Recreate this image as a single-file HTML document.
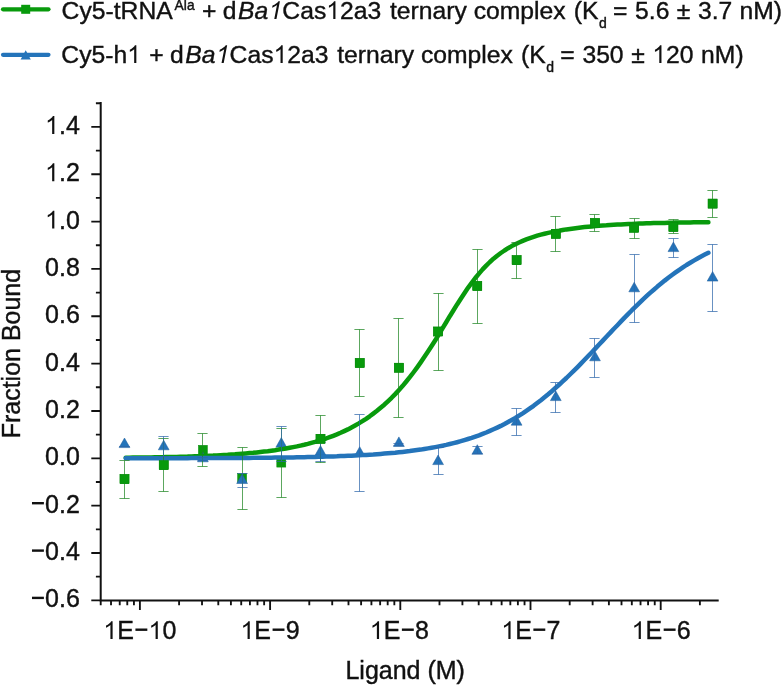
<!DOCTYPE html>
<html><head><meta charset="utf-8"><title>Binding curve</title>
<style>html,body{margin:0;padding:0;background:#fff;}body{width:782px;height:685px;overflow:hidden;}svg{display:block;will-change:transform;}text{font-family:"Liberation Sans",sans-serif;fill:#111;stroke:#111;stroke-width:0.4px;}.o{fill:none;stroke:none;}.g1{fill:#111;stroke:#111;stroke-width:0.4px;vector-effect:non-scaling-stroke;}</style>
</head><body>
<svg width="782" height="685" viewBox="0 0 782 685">
<rect width="782" height="685" fill="#fff"></rect>
<g stroke-linecap="round" stroke-width="4.2" fill="none">
<line x1="3" y1="9.3" x2="48.5" y2="9.3" stroke="#089a0c"></line>
<line x1="3" y1="54.8" x2="48.5" y2="54.8" stroke="#2474ba"></line>
</g>
<rect x="21.2" y="4.8" width="9" height="9" fill="#089a0c"></rect>
<path d="M25.7 50.2 L30.8 59.4 L20.6 59.4 Z" fill="#2474ba"></path>
<text font-size="24.7"><tspan x="61.60" y="18.90">Cy5-tRNA</tspan><tspan x="174.62" y="10.30" font-size="13.8">Ala</tspan><tspan x="201.99" y="18.90">+</tspan><tspan x="222.86" y="18.90">d</tspan><tspan x="237.94" y="18.90" font-style="italic">Ba<tspan class="o">1</tspan></tspan><tspan x="282.35" y="18.90">Cas<tspan class="o">1</tspan>2a3</tspan><tspan x="390.03" y="18.90">ternary</tspan><tspan x="473.65" y="18.90">complex</tspan><tspan x="573.77" y="18.90">(K</tspan><tspan x="598.91" y="27.50" font-size="14.0">d</tspan><tspan x="612.99" y="18.90">=</tspan><tspan x="635.06" y="18.90">5.6</tspan><tspan x="676.67" y="18.90">±</tspan><tspan x="698.01" y="18.90">3.7</tspan><tspan x="739.51" y="18.90">nM)</tspan></text><g class="g1"><path transform="translate(267.25 18.90) skewX(-11) scale(0.01206 -0.01206)" d="M763 0H583V1147Q518 1085 412.5 1023T223 930V1104Q374 1175 487 1276T647 1472H763Z"></path><path transform="translate(326.24 18.90) scale(0.01206 -0.01206)" d="M763 0H583V1147Q518 1085 412.5 1023T223 930V1104Q374 1175 487 1276T647 1472H763Z"></path></g>
<text font-size="24.7"><tspan x="61.30" y="63.00">Cy5-h<tspan class="o">1</tspan></tspan><tspan x="149.24" y="63.00">+</tspan><tspan x="170.11" y="63.00">d</tspan><tspan x="185.19" y="63.00" font-style="italic">Ba<tspan class="o">1</tspan></tspan><tspan x="229.60" y="63.00">Cas<tspan class="o">1</tspan>2a3</tspan><tspan x="337.28" y="63.00">ternary</tspan><tspan x="420.90" y="63.00">complex</tspan><tspan x="521.02" y="63.00">(K</tspan><tspan x="546.16" y="71.60" font-size="14.0">d</tspan><tspan x="560.24" y="63.00">=</tspan><tspan x="582.41" y="63.00">350</tspan><tspan x="631.27" y="63.00">±</tspan><tspan x="652.26" y="63.00"><tspan class="o">1</tspan>20</tspan><tspan x="701.11" y="63.00">nM)</tspan></text><g class="g1"><path transform="translate(127.14 63.00) scale(0.01206 -0.01206)" d="M763 0H583V1147Q518 1085 412.5 1023T223 930V1104Q374 1175 487 1276T647 1472H763Z"></path><path transform="translate(214.50 63.00) skewX(-11) scale(0.01206 -0.01206)" d="M763 0H583V1147Q518 1085 412.5 1023T223 930V1104Q374 1175 487 1276T647 1472H763Z"></path><path transform="translate(273.49 63.00) scale(0.01206 -0.01206)" d="M763 0H583V1147Q518 1085 412.5 1023T223 930V1104Q374 1175 487 1276T647 1472H763Z"></path><path transform="translate(652.26 63.00) scale(0.01206 -0.01206)" d="M763 0H583V1147Q518 1085 412.5 1023T223 930V1104Q374 1175 487 1276T647 1472H763Z"></path></g>
<g stroke="#111" stroke-width="2.0" fill="none" stroke-linecap="butt">
<path d="M100.7 102.0 L100.7 600.4 L718.7 600.4"></path>
<path stroke-width="1.85" d="M100.7 600.32 H91.3 M100.7 576.65 H95.9 M100.7 552.98 H91.3 M100.7 529.31 H95.9 M100.7 505.64 H91.3 M100.7 481.97 H95.9 M100.7 458.30 H91.3 M100.7 434.63 H95.9 M100.7 410.96 H91.3 M100.7 387.29 H95.9 M100.7 363.62 H91.3 M100.7 339.95 H95.9 M100.7 316.28 H91.3 M100.7 292.61 H95.9 M100.7 268.94 H91.3 M100.7 245.27 H95.9 M100.7 221.60 H91.3 M100.7 197.93 H95.9 M100.7 174.26 H91.3 M100.7 150.59 H95.9 M100.7 126.92 H91.3 M100.7 103.25 H95.9 M100.71 600.4 V605.3 M111.02 600.4 V605.3 M119.73 600.4 V605.3 M127.28 600.4 V605.3 M133.94 600.4 V605.3 M139.90 600.4 V609.9 M179.09 600.4 V605.3 M202.02 600.4 V605.3 M218.29 600.4 V605.3 M230.91 600.4 V605.3 M241.22 600.4 V605.3 M249.93 600.4 V605.3 M257.48 600.4 V605.3 M264.14 600.4 V605.3 M270.10 600.4 V609.9 M309.29 600.4 V605.3 M332.22 600.4 V605.3 M348.49 600.4 V605.3 M361.11 600.4 V605.3 M371.42 600.4 V605.3 M380.13 600.4 V605.3 M387.68 600.4 V605.3 M394.34 600.4 V605.3 M400.30 600.4 V609.9 M439.49 600.4 V605.3 M462.42 600.4 V605.3 M478.69 600.4 V605.3 M491.31 600.4 V605.3 M501.62 600.4 V605.3 M510.33 600.4 V605.3 M517.88 600.4 V605.3 M524.54 600.4 V605.3 M530.50 600.4 V609.9 M569.69 600.4 V605.3 M592.62 600.4 V605.3 M608.89 600.4 V605.3 M621.51 600.4 V605.3 M631.82 600.4 V605.3 M640.53 600.4 V605.3 M648.08 600.4 V605.3 M654.74 600.4 V605.3 M660.70 600.4 V609.9 M699.89 600.4 V605.3"></path>
</g>
<g font-size="25" text-anchor="end">
<text x="79.8" y="607.3"><tspan class="o">−</tspan>0.6</text><g class="g1"><rect x="31.99" y="596.70" width="11.9" height="2.4" stroke="none"></rect></g>
<text x="79.8" y="560.0"><tspan class="o">−</tspan>0.4</text><g class="g1"><rect x="31.99" y="549.40" width="11.9" height="2.4" stroke="none"></rect></g>
<text x="79.8" y="512.6"><tspan class="o">−</tspan>0.2</text><g class="g1"><rect x="31.99" y="502.00" width="11.9" height="2.4" stroke="none"></rect></g>
<text x="79.8" y="465.3">0.0</text>
<text x="79.8" y="418.0">0.2</text>
<text x="79.8" y="370.6">0.4</text>
<text x="79.8" y="323.3">0.6</text>
<text x="79.8" y="275.9">0.8</text>
<text x="79.8" y="228.6"><tspan class="o">1</tspan>.0</text><g class="g1"><path transform="translate(45.03 228.60) scale(0.01221 -0.01221)" d="M763 0H583V1147Q518 1085 412.5 1023T223 930V1104Q374 1175 487 1276T647 1472H763Z"></path></g>
<text x="79.8" y="181.3"><tspan class="o">1</tspan>.2</text><g class="g1"><path transform="translate(45.03 181.30) scale(0.01221 -0.01221)" d="M763 0H583V1147Q518 1085 412.5 1023T223 930V1104Q374 1175 487 1276T647 1472H763Z"></path></g>
<text x="79.8" y="133.9"><tspan class="o">1</tspan>.4</text><g class="g1"><path transform="translate(45.03 133.90) scale(0.01221 -0.01221)" d="M763 0H583V1147Q518 1085 412.5 1023T223 930V1104Q374 1175 487 1276T647 1472H763Z"></path></g>
</g>
<g font-size="25" text-anchor="middle">
<text x="139.8" y="639.1"><tspan class="o">1</tspan>E<tspan class="o">−</tspan><tspan class="o">1</tspan>0</text><g class="g1"><path transform="translate(103.30 639.10) scale(0.01221 -0.01221)" d="M763 0H583V1147Q518 1085 412.5 1023T223 930V1104Q374 1175 487 1276T647 1472H763Z"></path><path transform="translate(148.47 639.10) scale(0.01221 -0.01221)" d="M763 0H583V1147Q518 1085 412.5 1023T223 930V1104Q374 1175 487 1276T647 1472H763Z"></path><rect x="135.43" y="628.50" width="11.9" height="2.4" stroke="none"></rect></g>
<text x="270.0" y="639.1"><tspan class="o">1</tspan>E<tspan class="o">−</tspan>9</text><g class="g1"><path transform="translate(240.45 639.10) scale(0.01221 -0.01221)" d="M763 0H583V1147Q518 1085 412.5 1023T223 930V1104Q374 1175 487 1276T647 1472H763Z"></path><rect x="272.58" y="628.50" width="11.9" height="2.4" stroke="none"></rect></g>
<text x="399.3" y="639.1"><tspan class="o">1</tspan>E<tspan class="o">−</tspan>8</text><g class="g1"><path transform="translate(369.75 639.10) scale(0.01221 -0.01221)" d="M763 0H583V1147Q518 1085 412.5 1023T223 930V1104Q374 1175 487 1276T647 1472H763Z"></path><rect x="401.88" y="628.50" width="11.9" height="2.4" stroke="none"></rect></g>
<text x="530.8" y="639.1"><tspan class="o">1</tspan>E<tspan class="o">−</tspan>7</text><g class="g1"><path transform="translate(501.25 639.10) scale(0.01221 -0.01221)" d="M763 0H583V1147Q518 1085 412.5 1023T223 930V1104Q374 1175 487 1276T647 1472H763Z"></path><rect x="533.38" y="628.50" width="11.9" height="2.4" stroke="none"></rect></g>
<text x="661.1" y="639.1"><tspan class="o">1</tspan>E<tspan class="o">−</tspan>6</text><g class="g1"><path transform="translate(631.55 639.10) scale(0.01221 -0.01221)" d="M763 0H583V1147Q518 1085 412.5 1023T223 930V1104Q374 1175 487 1276T647 1472H763Z"></path><rect x="663.68" y="628.50" width="11.9" height="2.4" stroke="none"></rect></g>
<text x="405.2" y="678.6">Ligand (M)</text>
</g>
<text font-size="25" text-anchor="middle" transform="translate(20.3 353.6) rotate(-90)">Fraction Bound</text>
<g fill="#089a0c" stroke="#078a0a" stroke-width="0.5">
<rect x="120.0" y="474.6" width="9" height="9"></rect>
<rect x="159.2" y="460.6" width="9" height="9"></rect>
<rect x="198.4" y="445.3" width="9" height="9"></rect>
<rect x="237.6" y="473.5" width="9" height="9"></rect>
<rect x="276.8" y="458.1" width="9" height="9"></rect>
<rect x="316.0" y="434.3" width="9" height="9"></rect>
<rect x="355.2" y="358.5" width="9" height="9"></rect>
<rect x="394.4" y="363.2" width="9" height="9"></rect>
<rect x="433.6" y="327.0" width="9" height="9"></rect>
<rect x="472.8" y="281.5" width="9" height="9"></rect>
<rect x="512.1" y="255.7" width="9" height="9"></rect>
<rect x="551.3" y="229.3" width="9" height="9"></rect>
<rect x="590.5" y="218.5" width="9" height="9"></rect>
<rect x="629.7" y="223.2" width="9" height="9"></rect>
<rect x="668.9" y="222.5" width="9" height="9"></rect>
<rect x="708.1" y="199.1" width="9" height="9"></rect>
</g>
<g fill="#2474ba" stroke="#1c5d9a" stroke-width="0.5" stroke-linejoin="miter">
<path d="M124.5 438.0 l5.4 9.6 h-10.8 Z"></path>
<path d="M163.7 440.2 l5.4 9.6 h-10.8 Z"></path>
<path d="M202.9 452.2 l5.4 9.6 h-10.8 Z"></path>
<path d="M242.1 473.9 l5.4 9.6 h-10.8 Z"></path>
<path d="M281.3 437.6 l5.4 9.6 h-10.8 Z"></path>
<path d="M320.5 445.6 l5.4 9.6 h-10.8 Z"></path>
<path d="M359.7 446.7 l5.4 9.6 h-10.8 Z"></path>
<path d="M398.9 436.9 l5.4 9.6 h-10.8 Z"></path>
<path d="M438.1 455.0 l5.4 9.6 h-10.8 Z"></path>
<path d="M477.3 444.7 l5.4 9.6 h-10.8 Z"></path>
<path d="M516.6 415.6 l5.4 9.6 h-10.8 Z"></path>
<path d="M555.8 391.0 l5.4 9.6 h-10.8 Z"></path>
<path d="M595.0 351.2 l5.4 9.6 h-10.8 Z"></path>
<path d="M634.2 282.2 l5.4 9.6 h-10.8 Z"></path>
<path d="M673.4 242.0 l5.4 9.6 h-10.8 Z"></path>
<path d="M712.6 271.5 l5.4 9.6 h-10.8 Z"></path>
</g>
<path d="M125.7 457.7 L129.3 457.7 L133.0 457.6 L136.6 457.6 L140.3 457.5 L143.9 457.5 L147.6 457.4 L151.2 457.4 L154.8 457.3 L158.5 457.3 L162.1 457.2 L165.8 457.1 L169.4 457.0 L173.0 457.0 L176.7 456.9 L180.3 456.8 L184.0 456.7 L187.6 456.6 L191.3 456.4 L194.9 456.3 L198.5 456.2 L202.2 456.1 L205.8 455.9 L209.5 455.7 L213.1 455.6 L216.7 455.4 L220.4 455.2 L224.0 455.0 L227.7 454.8 L231.3 454.5 L235.0 454.3 L238.6 454.0 L242.2 453.7 L245.9 453.4 L249.5 453.1 L253.2 452.8 L256.8 452.4 L260.4 452.0 L264.1 451.6 L267.7 451.2 L271.4 450.7 L275.0 450.2 L278.7 449.6 L282.3 449.1 L285.9 448.5 L289.6 447.8 L293.2 447.1 L296.9 446.4 L300.5 445.6 L304.2 444.8 L307.8 443.9 L311.4 442.9 L315.1 441.9 L318.7 440.8 L322.4 439.7 L326.0 438.5 L329.6 437.2 L333.3 435.8 L336.9 434.4 L340.6 432.8 L344.2 431.1 L347.9 429.4 L351.5 427.5 L355.1 425.5 L358.8 423.4 L362.4 421.2 L366.1 418.8 L369.7 416.3 L373.3 413.6 L377.0 410.8 L380.6 407.8 L384.3 404.7 L387.9 401.3 L391.6 397.8 L395.2 394.1 L398.8 390.2 L402.5 386.1 L406.1 381.8 L409.8 377.2 L413.4 372.5 L417.0 367.6 L420.7 362.4 L424.3 357.1 L428.0 351.6 L431.6 346.0 L435.3 340.2 L438.9 334.3 L442.5 328.3 L446.2 322.3 L449.8 316.2 L453.5 310.3 L457.1 304.4 L460.8 298.7 L464.4 293.2 L468.0 287.8 L471.7 282.8 L475.3 278.0 L479.0 273.6 L482.6 269.4 L486.2 265.6 L489.9 262.0 L493.5 258.7 L497.2 255.7 L500.8 253.0 L504.5 250.5 L508.1 248.2 L511.7 246.1 L515.4 244.2 L519.0 242.5 L522.7 240.9 L526.3 239.4 L529.9 238.1 L533.6 236.9 L537.2 235.7 L540.9 234.7 L544.5 233.8 L548.2 232.9 L551.8 232.1 L555.4 231.3 L559.1 230.7 L562.7 230.0 L566.4 229.4 L570.0 228.9 L573.7 228.4 L577.3 227.9 L580.9 227.5 L584.6 227.1 L588.2 226.7 L591.9 226.4 L595.5 226.1 L599.1 225.8 L602.8 225.5 L606.4 225.3 L610.1 225.0 L613.7 224.8 L617.4 224.6 L621.0 224.4 L624.6 224.2 L628.3 224.0 L631.9 223.9 L635.6 223.7 L639.2 223.6 L642.8 223.5 L646.5 223.3 L650.1 223.2 L653.8 223.1 L657.4 223.0 L661.1 222.9 L664.7 222.9 L668.3 222.8 L672.0 222.7 L675.6 222.6 L679.3 222.6 L682.9 222.5 L686.5 222.5 L690.2 222.4 L693.8 222.3 L697.5 222.3 L701.1 222.3 L704.8 222.2 L708.4 222.2" stroke="#089a0c" stroke-width="4.5" fill="none" stroke-linecap="round" stroke-linejoin="round"></path>
<path d="M125.7 458.3 L129.3 458.2 L133.0 458.2 L136.6 458.2 L140.3 458.2 L143.9 458.2 L147.6 458.2 L151.2 458.2 L154.8 458.2 L158.5 458.2 L162.1 458.2 L165.8 458.2 L169.4 458.2 L173.0 458.2 L176.7 458.2 L180.3 458.2 L184.0 458.2 L187.6 458.2 L191.3 458.1 L194.9 458.1 L198.5 458.1 L202.2 458.1 L205.8 458.1 L209.5 458.1 L213.1 458.1 L216.7 458.1 L220.4 458.0 L224.0 458.0 L227.7 458.0 L231.3 458.0 L235.0 458.0 L238.6 457.9 L242.2 457.9 L245.9 457.9 L249.5 457.9 L253.2 457.8 L256.8 457.8 L260.4 457.8 L264.1 457.7 L267.7 457.7 L271.4 457.7 L275.0 457.6 L278.7 457.6 L282.3 457.5 L285.9 457.5 L289.6 457.4 L293.2 457.4 L296.9 457.3 L300.5 457.2 L304.2 457.2 L307.8 457.1 L311.4 457.0 L315.1 456.9 L318.7 456.8 L322.4 456.7 L326.0 456.6 L329.6 456.5 L333.3 456.4 L336.9 456.3 L340.6 456.1 L344.2 456.0 L347.9 455.8 L351.5 455.7 L355.1 455.5 L358.8 455.3 L362.4 455.1 L366.1 454.9 L369.7 454.7 L373.3 454.5 L377.0 454.2 L380.6 453.9 L384.3 453.6 L387.9 453.3 L391.6 453.0 L395.2 452.7 L398.8 452.3 L402.5 451.9 L406.1 451.5 L409.8 451.1 L413.4 450.6 L417.0 450.1 L420.7 449.6 L424.3 449.0 L428.0 448.4 L431.6 447.8 L435.3 447.1 L438.9 446.4 L442.5 445.7 L446.2 444.9 L449.8 444.0 L453.5 443.1 L457.1 442.2 L460.8 441.2 L464.4 440.1 L468.0 439.0 L471.7 437.9 L475.3 436.6 L479.0 435.3 L482.6 433.9 L486.2 432.5 L489.9 430.9 L493.5 429.3 L497.2 427.6 L500.8 425.9 L504.5 424.0 L508.1 422.0 L511.7 420.0 L515.4 417.9 L519.0 415.6 L522.7 413.3 L526.3 410.9 L529.9 408.4 L533.6 405.8 L537.2 403.0 L540.9 400.2 L544.5 397.3 L548.2 394.3 L551.8 391.2 L555.4 388.0 L559.1 384.8 L562.7 381.4 L566.4 378.0 L570.0 374.5 L573.7 370.9 L577.3 367.3 L580.9 363.6 L584.6 359.8 L588.2 356.0 L591.9 352.2 L595.5 348.4 L599.1 344.5 L602.8 340.6 L606.4 336.7 L610.1 332.9 L613.7 329.0 L617.4 325.2 L621.0 321.4 L624.6 317.6 L628.3 313.9 L631.9 310.2 L635.6 306.6 L639.2 303.1 L642.8 299.6 L646.5 296.2 L650.1 292.9 L653.8 289.7 L657.4 286.6 L661.1 283.6 L664.7 280.6 L668.3 277.8 L672.0 275.0 L675.6 272.4 L679.3 269.8 L682.9 267.4 L686.5 265.0 L690.2 262.8 L693.8 260.6 L697.5 258.5 L701.1 256.5 L704.8 254.6 L708.4 252.8" stroke="#2474ba" stroke-width="4.5" fill="none" stroke-linecap="round" stroke-linejoin="round"></path>
<path d="M124.5 460.5 V498.5 M119.4 460.5 H129.6 M119.4 498.5 H129.6 M163.5 438.5 V491.5 M158.4 438.5 H168.6 M158.4 491.5 H168.6 M202.5 433.5 V466.5 M197.4 433.5 H207.6 M197.4 466.5 H207.6 M242.5 447.5 V509.5 M237.4 447.5 H247.6 M237.4 509.5 H247.6 M281.5 428.5 V497.5 M276.4 428.5 H286.6 M276.4 497.5 H286.6 M320.5 415.5 V462.5 M315.4 415.5 H325.6 M315.4 462.5 H325.6 M359.5 329.5 V396.5 M354.4 329.5 H364.6 M354.4 396.5 H364.6 M398.5 318.5 V417.5 M393.4 318.5 H403.6 M393.4 417.5 H403.6 M438.5 293.5 V370.5 M433.4 293.5 H443.6 M433.4 370.5 H443.6 M477.5 249.5 V323.5 M472.4 249.5 H482.6 M472.4 323.5 H482.6 M516.5 242.5 V278.5 M511.4 242.5 H521.6 M511.4 278.5 H521.6 M555.5 216.5 V251.5 M550.4 216.5 H560.6 M550.4 251.5 H560.6 M594.5 214.5 V231.5 M589.4 214.5 H599.6 M589.4 231.5 H599.6 M634.5 218.5 V238.5 M629.4 218.5 H639.6 M629.4 238.5 H639.6 M673.5 219.5 V233.5 M668.4 219.5 H678.6 M668.4 233.5 H678.6 M712.5 190.5 V217.5 M707.4 190.5 H717.6 M707.4 217.5 H717.6" stroke="#1c8420" stroke-width="0.85" fill="none" opacity="0.85"></path>
<path d="M124.5 446.5 V446.5 M119.4 446.5 H129.6 M119.4 446.5 H129.6 M163.5 436.5 V456.5 M158.4 436.5 H168.6 M158.4 456.5 H168.6 M202.5 457.5 V460.5 M197.4 457.5 H207.6 M197.4 460.5 H207.6 M242.5 473.5 V487.5 M237.4 473.5 H247.6 M237.4 487.5 H247.6 M281.5 426.5 V461.5 M276.4 426.5 H286.6 M276.4 461.5 H286.6 M320.5 442.5 V461.5 M315.4 442.5 H325.6 M315.4 461.5 H325.6 M359.5 414.5 V491.5 M354.4 414.5 H364.6 M354.4 491.5 H364.6 M398.5 443.5 V445.5 M393.4 443.5 H403.6 M393.4 445.5 H403.6 M438.5 447.5 V474.5 M433.4 447.5 H443.6 M433.4 474.5 H443.6 M477.5 446.5 V453.5 M472.4 446.5 H482.6 M472.4 453.5 H482.6 M516.5 408.5 V435.5 M511.4 408.5 H521.6 M511.4 435.5 H521.6 M555.5 382.5 V412.5 M550.4 382.5 H560.6 M550.4 412.5 H560.6 M594.5 338.5 V377.5 M589.4 338.5 H599.6 M589.4 377.5 H599.6 M634.5 254.5 V322.5 M629.4 254.5 H639.6 M629.4 322.5 H639.6 M673.5 238.5 V257.5 M668.4 238.5 H678.6 M668.4 257.5 H678.6 M712.5 244.5 V311.5 M707.4 244.5 H717.6 M707.4 311.5 H717.6" stroke="#2c66aa" stroke-width="0.85" fill="none" opacity="0.85"></path>
<g fill="#089a0c" stroke="#078a0a" stroke-width="0.5">
<rect x="120.0" y="474.6" width="9" height="9"></rect>
<rect x="159.2" y="460.6" width="9" height="9"></rect>
<rect x="316.0" y="434.3" width="9" height="9"></rect>
<rect x="355.2" y="358.5" width="9" height="9"></rect>
<rect x="394.4" y="363.2" width="9" height="9"></rect>
<rect x="433.6" y="327.0" width="9" height="9"></rect>
<rect x="472.8" y="281.5" width="9" height="9"></rect>
<rect x="512.1" y="255.7" width="9" height="9"></rect>
<rect x="551.3" y="229.3" width="9" height="9"></rect>
<rect x="590.5" y="218.5" width="9" height="9"></rect>
<rect x="629.7" y="223.2" width="9" height="9"></rect>
<rect x="668.9" y="222.5" width="9" height="9"></rect>
<rect x="708.1" y="199.1" width="9" height="9"></rect>
</g>
</svg></body></html>
